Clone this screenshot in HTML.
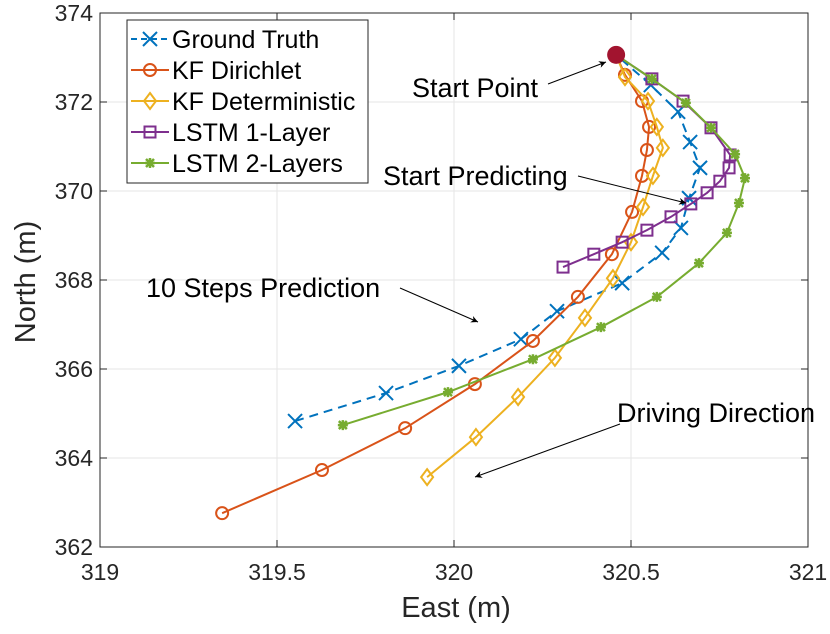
<!DOCTYPE html>
<html><head><meta charset="utf-8"><style>
body{margin:0;background:#fff;}
svg{display:block;font-family:"Liberation Sans",Arial,sans-serif;}
</style></head><body>
<svg id="chart" width="830" height="634" viewBox="0 0 830 634"></svg>
<script>
const xTicks=[319,319.5,320,320.5,321];
const yTicks=[362,364,366,368,370,372,374];
const seriesNames=["Ground Truth","KF Dirichlet","KF Deterministic","LSTM 1-Layer","LSTM 2-Layers"];
const gtX=[319.551,319.808,320.014,320.189,320.291,320.475,320.588,320.641,320.664,320.695,320.667,320.633,320.556,320.458];
const gtY=[364.83,365.46,366.07,366.67,367.30,367.93,368.61,369.17,369.84,370.52,371.10,371.78,372.38,373.06];
const kfdX=[319.345,319.627,319.862,320.059,320.223,320.350,320.446,320.503,320.531,320.545,320.551,320.531,320.483,320.458];
const kfdY=[362.76,363.73,364.67,365.66,366.63,367.62,368.58,369.53,370.34,370.92,371.44,372.02,372.61,373.06];
const kftX=[319.924,320.062,320.181,320.285,320.370,320.449,320.500,320.534,320.562,320.590,320.573,320.548,320.483,320.458];
const kftY=[363.57,364.47,365.37,366.25,367.15,368.04,368.85,369.64,370.34,370.97,371.44,372.02,372.56,373.06];
const l1X=[320.308,320.395,320.475,320.545,320.613,320.669,320.715,320.751,320.777,320.780,320.726,320.647,320.559,320.458];
const l1Y=[368.29,368.58,368.85,369.12,369.42,369.71,369.96,370.22,370.52,370.81,371.42,372.02,372.52,373.06];
const l2X=[319.686,319.983,320.223,320.415,320.573,320.692,320.771,320.805,320.822,320.794,320.726,320.655,320.559,320.458];
const l2Y=[364.74,365.48,366.22,366.94,367.62,368.38,369.06,369.73,370.29,370.83,371.42,371.98,372.52,373.06];
const startPt=[320.458,373.06];

const L=100,R=808,T=13,B=547;
const sx=v=>L+(v-319)/(321-319)*(R-L);
const sy=v=>B-(v-362)/(374-362)*(B-T);
const svg=document.getElementById('chart');
const NS='http://www.w3.org/2000/svg';
function mk(tag,attrs,parent){const e=document.createElementNS(NS,tag);for(const k in attrs)e.setAttribute(k,attrs[k]);(parent||svg).appendChild(e);return e;}

const grid=mk('g',{});


xTicks.forEach(t=>{mk('line',{x1:sx(t),x2:sx(t),y1:T,y2:B,stroke:'#e6e6e6','stroke-width':1},grid);});
yTicks.forEach(t=>{mk('line',{x1:L,x2:R,y1:sy(t),y2:sy(t),stroke:'#e6e6e6','stroke-width':1},grid);});

const box=mk('rect',{x:L,y:T,width:R-L,height:B-T,fill:'none',stroke:'#262626','stroke-width':1});


xTicks.forEach(t=>{
  mk('line',{x1:sx(t),x2:sx(t),y1:B,y2:B-7,stroke:'#262626'});
  mk('line',{x1:sx(t),x2:sx(t),y1:T,y2:T+7,stroke:'#262626'});
  const tx=mk('text',{x:sx(t),y:B+33,'text-anchor':'middle','font-size':23,fill:'#262626'});
  tx.textContent=String(t);
  
  
});
yTicks.forEach(t=>{
  mk('line',{x1:L,x2:L+7,y1:sy(t),y2:sy(t),stroke:'#262626'});
  mk('line',{x1:R,x2:R-7,y1:sy(t),y2:sy(t),stroke:'#262626'});
  const tx=mk('text',{x:L-7,y:sy(t)+8,'text-anchor':'end','font-size':23,fill:'#262626'});
  tx.textContent=String(t);
  
  
});
const xl=mk('text',{x:456,y:617,'text-anchor':'middle','font-size':29,fill:'#262626'});
xl.textContent='East (m)';


const yl=mk('text',{x:35,y:282,'text-anchor':'middle','font-size':29,fill:'#262626',transform:'rotate(-90 35 282)'});
yl.textContent='North (m)';



function marker(type,x,y,c,g){
  if(type==='x'){mk('path',{d:`M${x-7} ${y-7}L${x+7} ${y+7}M${x-7} ${y+7}L${x+7} ${y-7}`,stroke:c,'stroke-width':2,fill:'none'},g);}
  else if(type==='o'){mk('circle',{cx:x,cy:y,r:6,stroke:c,'stroke-width':2,fill:'none'},g);}
  else if(type==='d'){mk('path',{d:`M${x} ${y-8}L${x+6} ${y}L${x} ${y+8}L${x-6} ${y}Z`,stroke:c,'stroke-width':2,fill:'none'},g);}
  else if(type==='s'){mk('rect',{x:x-5.5,y:y-5.5,width:11,height:11,stroke:c,'stroke-width':2,fill:'none'},g);}
  else if(type==='*'){mk('path',{d:`M${x-5} ${y}L${x+5} ${y}M${x} ${y-5}L${x} ${y+5}M${x-4} ${y-4}L${x+4} ${y+4}M${x-4} ${y+4}L${x+4} ${y-4}`,stroke:c,'stroke-width':2.5,fill:'none'},g);}
}
const series=[
  {xs:gtX,ys:gtY,c:'#0072bd',m:'x',dash:'9 6',name:'series-ground-truth'},
  {xs:kfdX,ys:kfdY,c:'#d95319',m:'o',dash:'',name:'series-kf-dirichlet'},
  {xs:kftX,ys:kftY,c:'#edb120',m:'d',dash:'',name:'series-kf-deterministic'},
  {xs:l1X,ys:l1Y,c:'#7e2f8e',m:'s',dash:'',name:'series-lstm-1-layer'},
  {xs:l2X,ys:l2Y,c:'#77ac30',m:'*',dash:'',name:'series-lstm-2-layers'}
];
series.forEach(s=>{
  const g=mk('g',{});
  
  
  const pts=s.xs.map((v,i)=>sx(v)+','+sy(s.ys[i])).join(' ');
  const a={points:pts,fill:'none',stroke:s.c,'stroke-width':2};
  if(s.dash)a['stroke-dasharray']=s.dash;
  mk('polyline',a,g);
  s.xs.forEach((v,i)=>{ if(i<s.xs.length-1) marker(s.m,sx(v),sy(s.ys[i]),s.c,g); });
});
const sp=mk('circle',{cx:sx(startPt[0]),cy:sy(startPt[1]),r:9,fill:'#a2142f'});



const lg=mk('g',{});


mk('rect',{x:127,y:20,width:241,height:163,fill:'#fff',stroke:'#262626','stroke-width':1},lg);
const ly=[39,70,101,132,163];
series.forEach((s,i)=>{
  const e=mk('g',{},lg);
  
  
  const a={x1:131,x2:169,y1:ly[i],y2:ly[i],stroke:s.c,'stroke-width':2};
  if(s.dash)a['stroke-dasharray']='6 4';
  mk('line',a,e);
  marker(s.m,150,ly[i],s.c,e);
  const t=mk('text',{x:172,y:ly[i]+9,'font-size':25,textLength:0,fill:'#000'},e);
  t.removeAttribute('textLength');
  t.textContent=seriesNames[i];
});

mk('defs',{}).innerHTML='<marker id="ah" viewBox="0 0 10 10" refX="10" refY="5" markerWidth="9" markerHeight="7" orient="auto" markerUnits="userSpaceOnUse"><path d="M0 0L10 5L0 10L3 5Z" fill="#000"/></marker>';
const ann=[
  {t:'Start Point',x:412,y:97,a:[548,84,606,62],n:'start-point-annotation'},
  {t:'Start Predicting',x:383,y:185,a:[578,176,686,203],n:'start-predicting-annotation'},
  {t:'10 Steps Prediction',x:146,y:297,a:[400,288,478,322],n:'steps-prediction-annotation'},
  {t:'Driving Direction',x:617,y:422,a:[620,424,475,477],n:'driving-direction-annotation'}
];
ann.forEach(o=>{
  const g=mk('g',{});
  
  
  const t=mk('text',{x:o.x,y:o.y,'font-size':27,fill:'#000'},g);
  t.textContent=o.t;
  mk('line',{x1:o.a[0],y1:o.a[1],x2:o.a[2],y2:o.a[3],stroke:'#000','stroke-width':1,'marker-end':'url(#ah)'},g);
});
</script>
</body></html>
